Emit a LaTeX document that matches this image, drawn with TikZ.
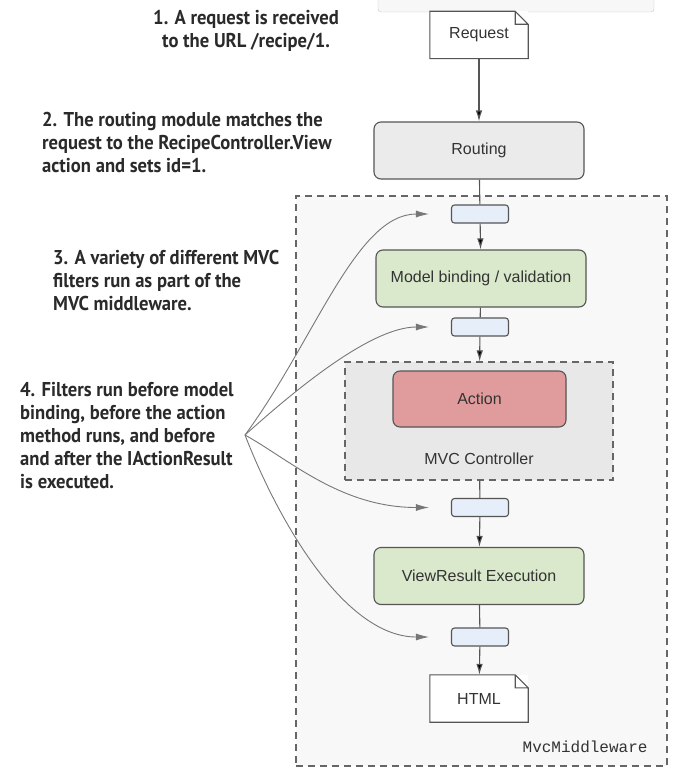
\documentclass[tikz,border=0pt]{standalone}
\usepackage{fontspec}
\setmainfont{Liberation Sans}
\setmonofont{Liberation Mono}
\newfontfamily\notefont[FakeStretch=0.93]{PT Sans}
\usepackage{tikz}
\usetikzlibrary{arrows.meta,positioning,calc}

\definecolor{boxline}{HTML}{555555}
\definecolor{groupline}{HTML}{666666}
\definecolor{curveline}{HTML}{777777}
\definecolor{nodetext}{HTML}{333333}
\definecolor{notetext}{HTML}{2A2A2A}
\definecolor{routefill}{HTML}{EBEBEB}
\definecolor{greenfill}{HTML}{DAE9CC}
\definecolor{actionfill}{HTML}{E09C9C}
\definecolor{filterfill}{HTML}{E6EEFA}
\definecolor{mvcfill}{HTML}{F8F8F8}
\definecolor{ctrlfill}{HTML}{E8E8E8}

\tikzset{
  stagebox/.style={draw=boxline, line width=1.1pt, rounded corners=7pt, minimum width=210pt, minimum height=57pt, inner sep=0pt, font=\fontsize{16}{18}\selectfont, text=nodetext},
  filterbox/.style={draw=boxline, line width=1.1pt, fill=filterfill, rounded corners=3pt, minimum width=57pt, minimum height=18pt, inner sep=0pt},
  docbox/.style={fill=white, minimum width=98pt, minimum height=47pt, inner sep=0pt, font=\fontsize{16}{18}\selectfont, text=nodetext},
  docline/.style={draw=boxline, line width=1.1pt},
  groupbox/.style={draw=groupline, line width=1.2pt, dash pattern=on 7pt off 5pt, inner sep=0pt},
  flow/.style={-{Latex[length=11pt,width=6.5pt]}, draw=boxline, line width=1.1pt},
  link/.style={-, draw=boxline, line width=1.1pt},
  filterarrow/.style={-{Latex[length=13pt,width=7pt]}, draw=curveline, line width=0.9pt, shorten >=22pt},
  note/.style={font=\notefont\bfseries\fontsize{20}{23}\selectfont, text=notetext, inner sep=0pt, align=left, anchor=north west},
}

% page with a folded corner round a node
\newcommand\docoutline[1]{%
  \draw[docline] (#1.north west) -- ([xshift=-13pt]#1.north east) -- ([yshift=-13pt]#1.north east)
    -- (#1.south east) -- (#1.south west) -- cycle
    ([xshift=-13pt]#1.north east) |- ([yshift=-13pt]#1.north east);}

\begin{document}
\begin{tikzpicture}[x=1pt,y=-1pt]
\useasboundingbox (0,0) rectangle (694,784);
\draw[draw=black!22, fill=black!3, rounded corners=3pt] (378,-10) rectangle (654,12);

% containers
\node[groupbox, fill=mvcfill, minimum width=371pt, minimum height=570pt] (mvc) at (481.5,481) {};
\node[font=\ttfamily\fontsize{16}{18}\selectfont, text=nodetext, anchor=east] (mvclabel) at (651,747) {MvcMiddleware};
\node[groupbox, fill=ctrlfill, minimum width=268pt, minimum height=118pt] (ctrl) at (479,421) {};
\node[font=\fontsize{16}{18}\selectfont, text=nodetext] (ctrllabel) at (479,459) {MVC Controller};

% pipeline
\node[docbox] (req) at (479,35) {Request};
\docoutline{req}
\node[stagebox, fill=routefill] (routing) at (479,150.5) {Routing};
\node[filterbox] (f1) at (480,214) {};
\node[stagebox, fill=greenfill] (binding) at (481,278.5) {Model binding / validation};
\node[filterbox] (f2) at (480,327) {};
\node[stagebox, fill=actionfill, minimum width=173pt, minimum height=56pt] (action) at (479.5,399) {Action};
\node[filterbox] (f3) at (480,507.5) {};
\node[stagebox, fill=greenfill] (view) at (479,576) {ViewResult Execution};
\node[filterbox] (f4) at (480,637) {};
\node[docbox] (html) at (479,698.5) {HTML};
\docoutline{html}

\path[flow] (req) edge (routing);
\path[link] (routing) edge (f1);
\path[flow] (f1) edge (binding);
\path[link] (binding) edge (f2);
\path[flow] (f2) edge (ctrl);
\path[link] (ctrl) edge (f3);
\path[flow] (f3) edge (view);
\path[link] (view) edge (f4);
\path[flow] (f4) edge (html);

% notes
\node[note, align=center, anchor=north] (note1) at (246,10) {1. A request is received\\to the URL /recipe/1.};
\node[note] (note2) at (42,112) {2. The routing module matches the\\request to the RecipeController.View\\action and sets id=1.};
\node[note] (note3) at (53,250) {3. A variety of different MVC\\filters run as part of the\\MVC middleware.};
\node[note] (note4) at (20,382) {4. Filters run before model\\binding, before the action\\method runs, and before\\and after the IActionResult\\is executed.};

\coordinate (src) at (245,435);
\draw[filterarrow] (src) .. controls +(70,-95) and +(-95,0) .. (f1.west);
\draw[filterarrow] (src) .. controls +(50,-45) and +(-80,0) .. (f2.west);
\draw[filterarrow] (src) .. controls +(45,25) and +(-110,0) .. (f3.west);
\draw[filterarrow] (src) .. controls +(35,90) and +(-105,0) .. (f4.west);
\end{tikzpicture}
\end{document}
